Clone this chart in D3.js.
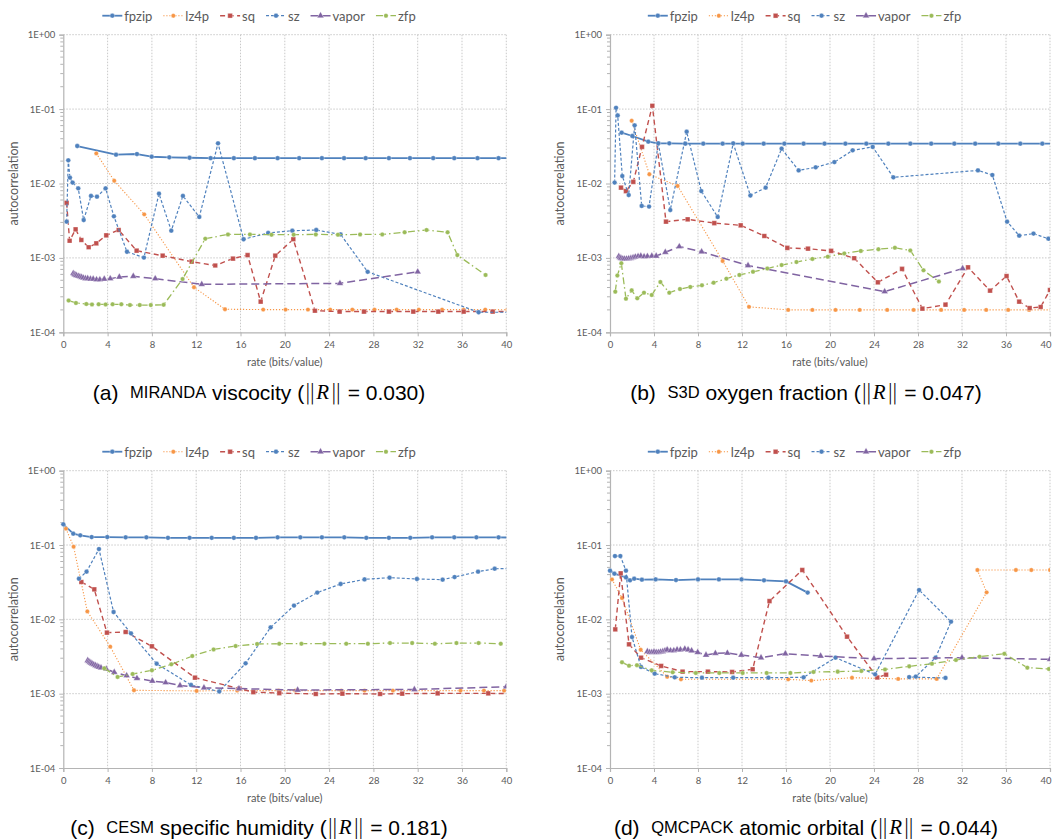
<!DOCTYPE html>
<html>
<head>
<meta charset="utf-8">
<script src="https://cdn.jsdelivr.net/npm/d3@7"></script>
<style>
  body { margin: 0; background: #fff; }
  svg { display: block; }
</style>
</head>
<body>
<svg id="fig" width="1052" height="839"></svg>
<script>
// ---------------- data ----------------
const seriesNames = ["fpzip", "lz4p", "sq", "sz", "vapor", "zfp"];
const rateTicks = [0, 4, 8, 12, 16, 20, 24, 28, 32, 36, 40];
const acTicks = [1e-4, 1e-3, 1e-2, 1e-1, 1];
const acTickLabels = ["1E-04", "1E-03", "1E-02", "1E-01", "1E+00"];
const xTitle = "rate (bits/value)";
const yTitle = "autocorrelation";

// (a) MIRANDA viscocity: [rate, autocorrelation]
const mirandaFpzip = [[1.26,0.0319],[4.76,0.0244],[6.65,0.0249],[7.98,0.0229],[9.57,0.0225],[11.4,0.0222],[13.3,0.0219],[15.4,0.0219],[17.3,0.0219],[19.35,0.0219],[21.3,0.0219],[23.35,0.0219],[25.35,0.0219],[27.3,0.0219],[29.4,0.0219],[31.3,0.0219],[33.4,0.0219],[35.3,0.0219],[37.4,0.0219],[39.3,0.0219],[41.3,0.0219]];
const mirandaLz4p = [[2.98,0.0254],[4.6,0.0109],[7.31,0.00385],[11.8,0.000403],[14.6,0.000204],[18.05,0.000202],[20.07,0.000202],[22.09,0.000202],[24.1,0.000202],[26.1,0.000202],[28.1,0.000202],[30.1,0.000202],[32.1,0.000202],[34.2,0.000202],[36.15,0.000202],[38.1,0.000202],[40.1,0.000201]];
const mirandaSq = [[0.3,0.0055],[0.57,0.0017],[1.11,0.00242],[1.63,0.00174],[2.29,0.00139],[2.98,0.00157],[3.88,0.00201],[5.0,0.00237],[6.62,0.00125],[8.97,0.00107],[11.59,0.00089],[13.72,0.00079],[15.32,0.00098],[16.64,0.00109],[17.82,0.000258],[19.14,0.00107],[20.77,0.00178],[22.72,0.000195],[24.95,0.00019],[27.15,0.00019],[29.4,0.00019],[31.6,0.00019],[33.86,0.00019],[36.15,0.00019],[38.77,0.00019],[40.5,0.00019]];
const mirandaSz = [[0.3,0.00307],[0.45,0.0205],[0.6,0.012],[0.84,0.0103],[1.35,0.0086],[1.84,0.00323],[2.5,0.0068],[3.04,0.00665],[3.82,0.0086],[4.57,0.00362],[5.75,0.00121],[7.28,0.00101],[8.64,0.0073],[9.75,0.00232],[10.8,0.0068],[12.28,0.00355],[13.97,0.0347],[16.28,0.00178],[18.5,0.00216],[20.68,0.00232],[22.84,0.00237],[25.04,0.00207],[27.48,0.00065],[37.5,0.000186],[40.5,0.000186]];
const mirandaVapor = [[0.9,0.00062],[1.0,0.0006],[1.1,0.00059],[1.2,0.00058],[1.35,0.00057],[1.5,0.00056],[1.65,0.00055],[1.8,0.00054],[2.0,0.00053],[2.2,0.00053],[2.45,0.00052],[2.7,0.00052],[3.0,0.00051],[3.3,0.00051],[3.7,0.00052],[4.24,0.000526],[5.06,0.000554],[6.32,0.000566],[8.3,0.000526],[12.5,0.000441],[24.98,0.000455],[32.0,0.00065]];
const mirandaZfp = [[0.48,0.000267],[1.14,0.000248],[2.08,0.00024],[2.59,0.000237],[3.19,0.000238],[3.82,0.000237],[4.45,0.000238],[5.24,0.000238],[6.02,0.000232],[6.9,0.000232],[7.9,0.000232],[9.06,0.000234],[10.77,0.00052],[12.82,0.00181],[14.87,0.00207],[16.85,0.00207],[18.8,0.00205],[20.8,0.00205],[22.8,0.00207],[24.8,0.00205],[26.8,0.00207],[28.8,0.00207],[30.82,0.00221],[32.8,0.00237],[34.7,0.00221],[35.58,0.00109],[38.13,0.00059]];

// (b) S3D oxygen fraction
const s3dFpzip = [[1.06,0.0482],[2.03,0.0435],[3.48,0.0365],[4.39,0.0347],[5.39,0.0347],[6.85,0.0343],[8.48,0.0343],[10.24,0.0343],[12.06,0.0343],[13.97,0.0343],[15.85,0.0343],[17.6,0.0343],[19.5,0.0343],[21.4,0.0343],[23.3,0.0343],[25.3,0.0343],[27.3,0.0343],[29.2,0.0343],[31.3,0.0343],[33.2,0.0343],[35.3,0.0343],[37.3,0.0343],[39.3,0.0343],[41.2,0.0343]];
const s3dLz4p = [[1.97,0.0698],[3.58,0.0133],[6.15,0.00927],[10.24,0.00091],[12.64,0.00022],[16.2,0.0002],[18.4,0.0002],[20.5,0.0002],[22.7,0.0002],[25.2,0.0002],[27.6,0.0002],[30.1,0.0002],[32.2,0.0002],[34.2,0.0002],[36.2,0.0002],[38.1,0.0002],[40.2,0.0002]];
const s3dSq = [[1.0,0.0088],[1.45,0.0079],[2.12,0.0105],[2.91,0.031],[3.85,0.111],[5.09,0.00307],[7.06,0.0033],[9.48,0.00294],[11.88,0.00274],[14.03,0.00197],[16.12,0.00136],[18.0,0.00133],[20.1,0.00124],[22.2,0.00099],[24.35,0.00047],[26.55,0.00071],[28.4,0.000208],[30.5,0.000235],[32.55,0.000747],[34.55,0.000363],[36.05,0.000571],[37.2,0.000258],[38.15,0.000212],[39.15,0.000219],[40.0,0.00037]];
const s3dSz = [[0.42,0.0103],[0.55,0.104],[0.7,0.082],[1.12,0.0126],[1.7,0.007],[2.24,0.0605],[2.88,0.005],[3.55,0.0049],[4.39,0.0347],[5.48,0.0044],[6.97,0.0497],[8.3,0.0079],[9.79,0.00355],[11.2,0.0347],[12.76,0.0069],[14.15,0.0088],[15.6,0.0294],[17.15,0.015],[18.7,0.0165],[20.4,0.0194],[22.06,0.0279],[23.88,0.031],[25.76,0.0121],[33.45,0.015],[34.76,0.013],[36.1,0.00307],[37.2,0.00199],[38.5,0.00212],[39.85,0.00181],[40.5,0.0017]];
const s3dVapor = [[0.8,0.00105],[0.9,0.00101],[1.0,0.00099],[1.15,0.00097],[1.3,0.00097],[1.5,0.00097],[1.7,0.00098],[1.9,0.00099],[2.1,0.00101],[2.3,0.00103],[2.55,0.00105],[2.8,0.00106],[3.1,0.00104],[3.4,0.00105],[3.8,0.00106],[4.2,0.00106],[5.03,0.00119],[6.3,0.00142],[8.33,0.00121],[12.55,0.00079],[24.97,0.000352],[32.06,0.00072]];
const s3dZfp = [[0.48,0.000352],[0.67,0.00058],[1.03,0.00085],[1.45,0.000283],[1.97,0.000366],[2.48,0.000286],[3.09,0.000341],[3.79,0.000317],[4.58,0.000474],[5.39,0.000341],[6.36,0.000382],[7.3,0.000407],[8.36,0.000428],[9.42,0.000465],[10.58,0.000526],[11.76,0.00059],[13.0,0.00065],[14.3,0.00072],[15.6,0.0008],[16.95,0.00088],[18.4,0.00097],[19.8,0.00104],[21.3,0.00115],[22.8,0.00124],[24.4,0.00131],[25.9,0.00137],[27.3,0.00126],[28.5,0.00068],[29.9,0.00048]];

// (c) CESM specific humidity
const cesmFpzip = [[0,0.19],[0.9,0.142],[1.53,0.135],[2.56,0.128],[3.97,0.128],[5.63,0.127],[7.5,0.127],[9.45,0.125],[11.4,0.125],[13.4,0.125],[15.4,0.125],[17.4,0.125],[19.35,0.127],[21.4,0.127],[23.35,0.127],[25.37,0.127],[27.36,0.125],[29.4,0.125],[31.33,0.125],[33.3,0.127],[35.3,0.127],[37.3,0.127],[39.3,0.127],[41.3,0.125]];
const cesmLz4p = [[0.24,0.166],[0.93,0.095],[2.17,0.0128],[4.24,0.00429],[6.38,0.00111],[12.04,0.00109],[15.7,0.0011],[19.44,0.0011],[20.94,0.0011],[25.1,0.0011],[27.2,0.0011],[29.76,0.0011],[35.87,0.0011],[37.98,0.0011],[39.8,0.0011]];
const cesmSq = [[1.63,0.0318],[2.8,0.0253],[3.94,0.00662],[5.63,0.00676],[8.0,0.00434],[11.89,0.00164],[15.9,0.00117],[17.16,0.00105],[19.5,0.00102],[22.8,0.00099],[25.2,0.001],[28.6,0.00099],[30.6,0.001],[33.8,0.00101],[38.37,0.00101],[40.5,0.001]];
const cesmSz = [[1.41,0.0352],[2.1,0.0438],[3.22,0.0883],[4.54,0.01255],[6.11,0.00648],[8.43,0.00253],[11.53,0.00131],[14.08,0.00107],[16.46,0.00256],[18.72,0.0078],[20.83,0.0153],[22.93,0.0229],[25.04,0.0299],[27.2,0.0345],[29.46,0.0364],[31.93,0.0349],[34.25,0.0342],[35.33,0.0371],[37.45,0.0438],[38.95,0.048],[40.5,0.048]];
const cesmVapor = [[2.2,0.0028],[2.3,0.00272],[2.4,0.00265],[2.5,0.00259],[2.6,0.00253],[2.75,0.00246],[2.9,0.0024],[3.05,0.00234],[3.2,0.00229],[3.4,0.00223],[3.88,0.00215],[4.6,0.00194],[5.72,0.00175],[6.65,0.00161],[8.04,0.00148],[9.24,0.00141],[10.54,0.00129],[12.7,0.0012],[15.86,0.00117],[21.16,0.00112],[31.7,0.00114],[40.0,0.00124]];
const cesmZfp = [[3.7,0.00219],[4.9,0.00168],[6.26,0.00184],[8.0,0.00206],[9.75,0.00248],[11.65,0.00321],[13.57,0.00394],[15.56,0.00437],[17.5,0.00466],[19.5,0.0047],[21.5,0.0047],[23.57,0.0047],[25.55,0.0047],[27.5,0.0047],[29.5,0.0048],[31.5,0.0048],[33.55,0.0047],[35.5,0.0048],[37.5,0.0048],[39.5,0.0047]];

// (d) QMCPACK atomic orbital
const qmcFpzip = [[0,0.0452],[0.4,0.0411],[1.45,0.0367],[1.82,0.0335],[2.2,0.0352],[2.9,0.0342],[4.15,0.0345],[6.0,0.0338],[8.0,0.0345],[9.9,0.0345],[11.96,0.0345],[14.0,0.0335],[16.0,0.0324],[17.97,0.0229]];
const qmcLz4p = [[0.18,0.0345],[1.09,0.0194],[2.79,0.0039],[5.2,0.00169],[6.45,0.00156],[16.2,0.00156],[18.3,0.0015],[22.0,0.00164],[26.2,0.00158],[29.7,0.00158],[34.24,0.0231],[33.4,0.0461],[36.9,0.0461],[38.3,0.0461],[40.0,0.0461]];
const qmcSq = [[0.48,0.00733],[0.97,0.0416],[1.73,0.00461],[2.82,0.00305],[4.65,0.00236],[6.6,0.00198],[8.9,0.00198],[11.1,0.00196],[12.97,0.00213],[14.5,0.0176],[17.48,0.0461],[21.55,0.00585],[24.3,0.00165],[25.1,0.0018]];
const qmcSz = [[0.45,0.0711],[0.94,0.0711],[1.45,0.0452],[2.0,0.00578],[2.82,0.00229],[4.06,0.00186],[5.88,0.00166],[8.36,0.00164],[11.2,0.00164],[14.4,0.00164],[17.6,0.00166],[20.5,0.00305],[24.1,0.00182],[28.1,0.0248],[31.0,0.0093],[29.6,0.00305],[27.8,0.0017],[27.2,0.00167],[30.5,0.00163]];
const qmcVapor = [[3.4,0.0037],[3.6,0.0036],[3.8,0.0036],[4.0,0.00365],[4.2,0.0036],[4.4,0.0036],[4.6,0.00365],[4.8,0.0037],[5.0,0.0038],[5.2,0.0039],[5.5,0.0038],[5.8,0.0038],[6.1,0.0039],[6.4,0.0039],[6.8,0.004],[7.1,0.0039],[7.42,0.00379],[7.97,0.0036],[8.73,0.00331],[9.58,0.00349],[10.67,0.00352],[11.94,0.00331],[13.73,0.00305],[15.94,0.00345],[19.15,0.00321],[24.0,0.00296],[32.0,0.00305],[40.0,0.0029]];
const qmcZfp = [[1.09,0.00264],[1.73,0.00238],[2.45,0.00242],[3.79,0.00206],[5.7,0.00194],[7.8,0.0019],[9.94,0.0019],[12.06,0.0019],[14.24,0.0019],[16.4,0.0019],[18.5,0.00196],[20.7,0.00198],[22.85,0.00202],[25.0,0.00212],[27.2,0.00233],[29.27,0.00253],[31.45,0.00284],[33.6,0.00315],[35.85,0.00345],[37.94,0.00224],[39.9,0.00215]];

const captionTags = ["(a)", "(b)", "(c)", "(d)"];
const captionCodes = ["MIRANDA", "S3D", "CESM", "QMCPACK"];
const captionFields = ["viscocity", "oxygen fraction", "specific humidity", "atomic orbital"];
const captionNorms = ["0.030", "0.047", "0.181", "0.044"];

// ---------------- styling ----------------
const styles = {
  fpzip: { color: "#4F81BD", width: 1.8, dash: null,        marker: d3.symbolCircle,   size: 18 },
  lz4p:  { color: "#F79646", width: 1.1, dash: "1.2,1.8",   marker: d3.symbolCircle,   size: 15 },
  sq:    { color: "#C0504D", width: 1.4, dash: "5,3.5",     marker: d3.symbolSquare,   size: 22 },
  sz:    { color: "#4F81BD", width: 1.2, dash: "3,2",       marker: d3.symbolCircle,   size: 18 },
  vapor: { color: "#8064A2", width: 1.5, dash: "8,4",       marker: d3.symbolTriangle, size: 20 },
  zfp:   { color: "#9BBB59", width: 1.3, dash: "7,3,1.5,3", marker: d3.symbolCircle,   size: 16 }
};
const GRID = "#c3c3c3", AXIS = "#b4b4b4", LABEL = "#5a5a5a";
const CHART_FONT = "Lato, 'Open Sans', sans-serif";
const CAPTION_FONT = "'Liberation Sans', Arial, sans-serif";
const SVG_W = 1052;

const panels = [
  { series: [mirandaFpzip, mirandaLz4p, mirandaSq, mirandaSz, mirandaVapor, mirandaZfp],
    x0: 63.3, x1: 506.3, y0: 34.7, y1: 332.3, legendCx: 259, legendY: 15.7, yTitleX: 13.5, capCx: 259, capY: 392 },
  { series: [s3dFpzip, s3dLz4p, s3dSq, s3dSz, s3dVapor, s3dZfp],
    x0: 610, x1: 1050, y0: 34.7, y1: 332.3, legendCx: 804.5, legendY: 15.7, yTitleX: 559.3, capCx: 806, capY: 392 },
  { series: [cesmFpzip, cesmLz4p, cesmSq, cesmSz, cesmVapor, cesmZfp],
    x0: 63.3, x1: 506.3, y0: 470.7, y1: 768, legendCx: 259, legendY: 451.7, yTitleX: 13.5, capCx: 259, capY: 827 },
  { series: [qmcFpzip, qmcLz4p, qmcSq, qmcSz, qmcVapor, qmcZfp],
    x0: 610, x1: 1050, y0: 470.7, y1: 768, legendCx: 804.5, legendY: 451.7, yTitleX: 559.3, capCx: 806, capY: 827 }
];

const svg = d3.select("#fig");
svg.append("rect").attr("width", SVG_W).attr("height", 839).attr("fill", "#fff");

function drawMarker(g, name, cx, cy) {
  const s = styles[name];
  g.append("path")
    .attr("d", d3.symbol().type(s.marker).size(s.size)())
    .attr("transform", `translate(${cx},${cy})`)
    .attr("fill", s.color)
    .attr("stroke", "rgba(255,255,255,0.55)")
    .attr("stroke-width", 0.6);
}

panels.forEach((p, pi) => {
  const g = svg.append("g");
  const x = d3.scaleLinear().domain([0, 40]).range([p.x0, p.x1]);
  const y = d3.scaleLog().domain([1e-4, 1]).range([p.y1, p.y0]);

  // dotted gridlines
  const grid = g.append("g").attr("stroke", GRID).attr("stroke-width", 0.9).attr("stroke-dasharray", "1.5,1.5");
  rateTicks.filter(t => t > 0).forEach(t => {
    grid.append("line").attr("x1", x(t)).attr("x2", x(t)).attr("y1", p.y0).attr("y2", p.y1);
  });
  acTicks.filter(t => t > 1e-4).forEach(t => {
    grid.append("line").attr("x1", p.x0).attr("x2", p.x1).attr("y1", y(t)).attr("y2", y(t));
  });

  // axes
  const yAxis = d3.axisLeft(y).tickValues(acTicks)
    .tickFormat((d, i) => acTickLabels[i]).tickSize(4).tickPadding(4);
  const ya = g.append("g").attr("transform", `translate(${p.x0},0)`).call(yAxis);
  // minor log ticks
  const minor = y.ticks().filter(v => !acTicks.some(t => Math.abs(t - v) / t < 1e-9));
  ya.selectAll(".minor").data(minor).enter().append("line")
    .attr("class", "minor").attr("x1", -3).attr("x2", 0)
    .attr("y1", d => y(d)).attr("y2", d => y(d));

  const xAxis = d3.axisBottom(x).tickValues(rateTicks).tickSize(4).tickPadding(5);
  const xa = g.append("g").attr("transform", `translate(0,${p.y1})`).call(xAxis);

  [ya, xa].forEach(a => {
    a.select(".domain").attr("stroke", AXIS).attr("stroke-width", 1.2);
    a.selectAll("line").attr("stroke", AXIS);
    a.selectAll("text").attr("fill", LABEL).style("font-family", CHART_FONT).style("font-size", "9.5px");
  });
  // keep the last rate label inside the page edge
  xa.selectAll(".tick text").each(function (d) {
    const w = this.getComputedTextLength();
    const overflow = x(d) + w / 2 - (SVG_W - 1);
    if (overflow > 0) d3.select(this).attr("dx", -overflow);
  });

  // axis titles
  g.append("text").attr("transform", `translate(${p.yTitleX},${(p.y0 + p.y1) / 2}) rotate(-90)`)
    .attr("text-anchor", "middle").attr("dominant-baseline", "central")
    .attr("fill", LABEL).style("font-family", CHART_FONT).style("font-size", "12.5px").text(yTitle);
  g.append("text").attr("x", (p.x0 + p.x1) / 2).attr("y", p.y1 + 29)
    .attr("text-anchor", "middle").attr("dominant-baseline", "central")
    .attr("fill", LABEL).style("font-family", CHART_FONT).style("font-size", "11px").text(xTitle);

  // series
  const clipId = "clip" + pi;
  g.append("clipPath").attr("id", clipId).append("rect")
    .attr("x", p.x0 - 4).attr("y", p.y0 - 4).attr("width", p.x1 - p.x0 + 4).attr("height", p.y1 - p.y0 + 8);
  const plot = g.append("g").attr("clip-path", `url(#${clipId})`);
  const line = d3.line().x(d => x(d[0])).y(d => y(d[1]));
  seriesNames.forEach((name, si) => {
    const s = styles[name];
    const data = p.series[si];
    plot.append("path").datum(data).attr("d", line)
      .attr("fill", "none").attr("stroke", s.color).attr("stroke-width", s.width)
      .attr("stroke-dasharray", s.dash).attr("stroke-linejoin", "round");
    data.forEach(d => drawMarker(plot, name, x(d[0]), y(d[1])));
  });

  // legend
  const lg = g.append("g");
  let cursor = 0;
  seriesNames.forEach(name => {
    const s = styles[name];
    const item = lg.append("g").attr("transform", `translate(${cursor},0)`);
    item.append("line").attr("x1", 0).attr("x2", 20).attr("y1", 0).attr("y2", 0)
      .attr("stroke", s.color).attr("stroke-width", s.width).attr("stroke-dasharray", s.dash);
    drawMarker(item, name, 10, 0);
    const t = item.append("text").attr("x", 22).attr("y", 0).attr("dominant-baseline", "central")
      .attr("fill", LABEL).style("font-family", CHART_FONT).style("font-size", "13px").text(name);
    cursor += 22 + t.node().getComputedTextLength() + 11;
  });
  const total = cursor - 11;
  lg.attr("transform", `translate(${p.legendCx - total / 2},${p.legendY})`);

  // caption below the panel
  const cap = svg.append("text").attr("x", p.capCx).attr("y", p.capY)
    .attr("text-anchor", "middle").attr("dominant-baseline", "central")
    .attr("fill", "#000").style("font-family", CAPTION_FONT).style("font-size", "21px")
    .attr("xml:space", "preserve");
  cap.append("tspan").text(captionTags[pi] + "  ");
  cap.append("tspan").style("font-size", "16.5px").text(captionCodes[pi]);
  cap.append("tspan").text(" " + captionFields[pi] + " (");
  cap.append("tspan").style("font-family", "'DejaVu Sans', sans-serif").style("font-weight", "200")
    .style("letter-spacing", "-2.5px").text("||");
  cap.append("tspan").attr("dx", 3).style("font-family", "'Liberation Serif', serif").style("font-style", "italic").text("R");
  cap.append("tspan").attr("dx", 1).style("font-family", "'DejaVu Sans', sans-serif").style("font-weight", "200")
    .style("letter-spacing", "-2.5px").text("||");
  cap.append("tspan").attr("dx", 2.5).text(" = " + captionNorms[pi] + ")");
});
</script>
</body>
</html>
